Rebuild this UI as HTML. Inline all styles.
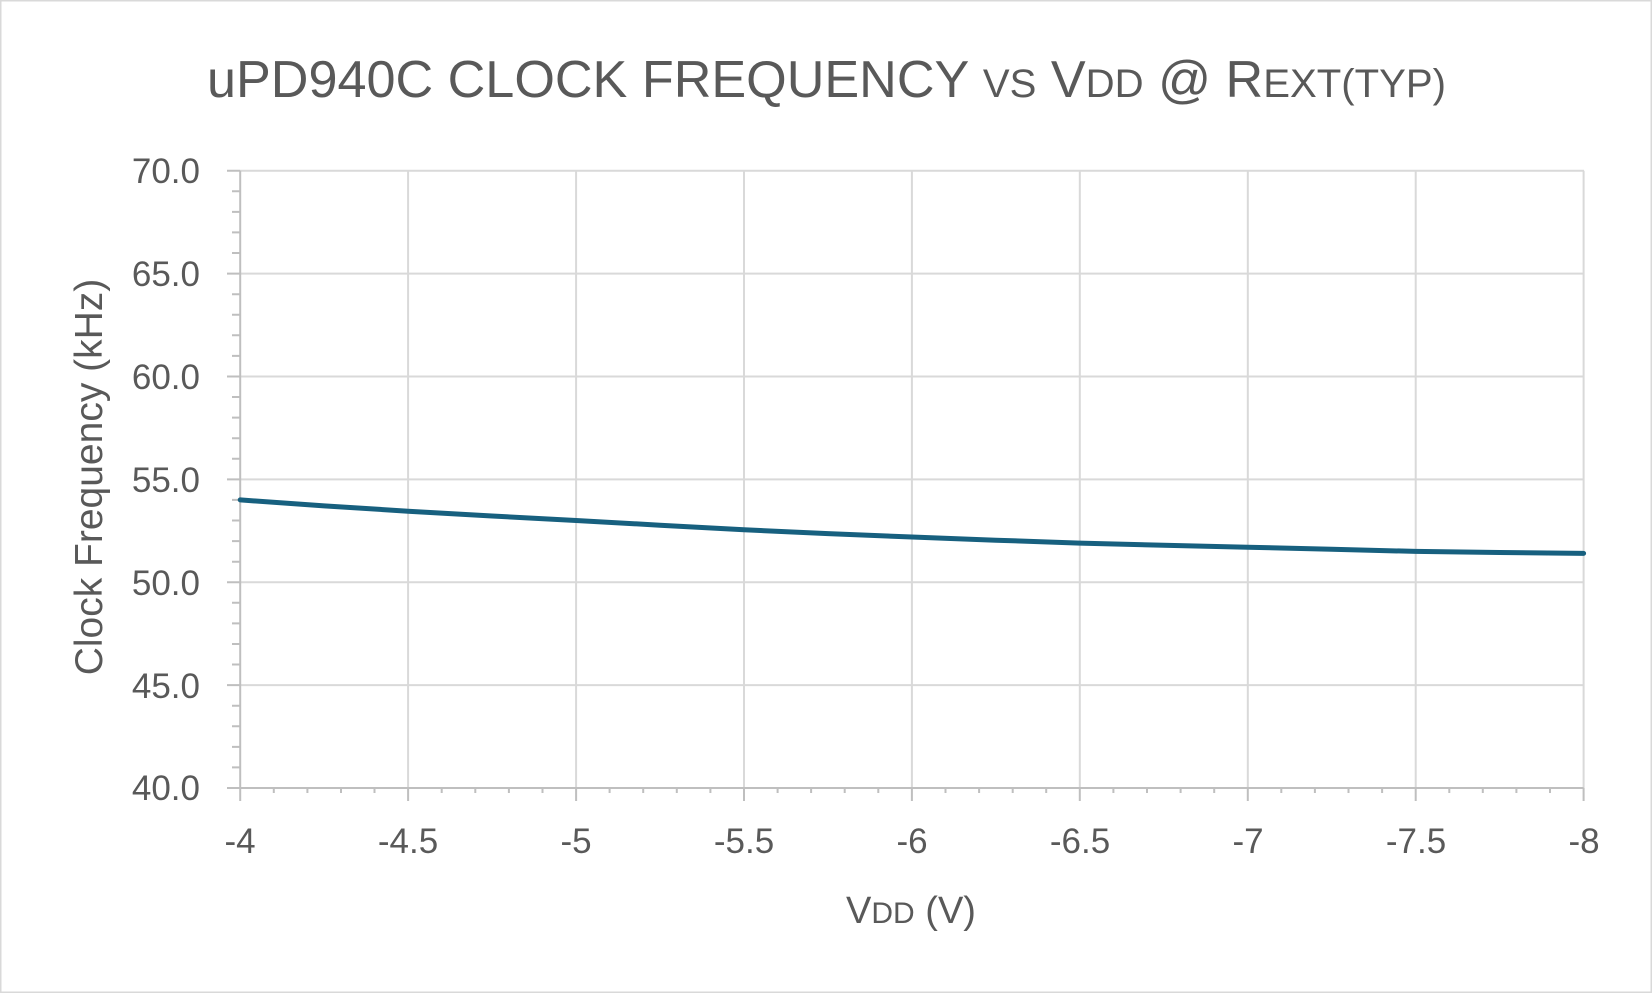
<!DOCTYPE html>
<html><head><meta charset="utf-8"><style>html,body{margin:0;padding:0;background:#fff}svg{display:block}</style></head>
<body>
<svg width="1652" height="993" viewBox="0 0 1652 993" xmlns="http://www.w3.org/2000/svg" font-family="Liberation Sans, sans-serif">
<rect x="0.5" y="0.5" width="1651" height="992" fill="#fff" stroke="#d9d9d9" stroke-width="2"/>
<text x="207" y="97" font-size="52" fill="#595959" textLength="1239" lengthAdjust="spacingAndGlyphs">uPD940C CLOCK FREQUENCY <tspan font-size="40">VS</tspan> V<tspan font-size="40">DD</tspan> @ R<tspan font-size="40">EXT(TYP)</tspan></text>
<g stroke="#d9d9d9" stroke-width="2">
<line x1="240" y1="170.7" x2="1584" y2="170.7"/><line x1="240" y1="273.6" x2="1584" y2="273.6"/><line x1="240" y1="376.5" x2="1584" y2="376.5"/><line x1="240" y1="479.4" x2="1584" y2="479.4"/><line x1="240" y1="582.2" x2="1584" y2="582.2"/><line x1="240" y1="685.1" x2="1584" y2="685.1"/>
<line x1="408.1" y1="170.7" x2="408.1" y2="788"/><line x1="576.1" y1="170.7" x2="576.1" y2="788"/><line x1="744" y1="170.7" x2="744" y2="788"/><line x1="911.9" y1="170.7" x2="911.9" y2="788"/><line x1="1079.8" y1="170.7" x2="1079.8" y2="788"/><line x1="1247.8" y1="170.7" x2="1247.8" y2="788"/><line x1="1415.7" y1="170.7" x2="1415.7" y2="788"/><line x1="1583.6" y1="170.7" x2="1583.6" y2="788"/>
</g>
<g stroke="#bfbfbf" stroke-width="2" fill="none">
<path d="M240.2 170.7V788H1583.6"/>
<path d="M227 170.7H240M227 273.6H240M227 376.5H240M227 479.4H240M227 582.2H240M227 685.1H240M227 788H240"/>
<path d="M232 191.3H240M232 211.9H240M232 232.4H240M232 253H240M232 294.2H240M232 314.7H240M232 335.3H240M232 355.9H240M232 397H240M232 417.6H240M232 438.2H240M232 458.8H240M232 499.9H240M232 520.5H240M232 541.1H240M232 561.7H240M232 602.8H240M232 623.4H240M232 644H240M232 664.5H240M232 705.7H240M232 726.3H240M232 746.9H240M232 767.4H240"/>
<path d="M240.2 788v13M408.1 788v13M576.1 788v13M744 788v13M911.9 788v13M1079.8 788v13M1247.8 788v13M1415.7 788v13M1583.6 788v13"/>
<path d="M273.8 788v5M307.4 788v5M341 788v5M374.5 788v5M441.7 788v5M475.3 788v5M508.9 788v5M542.5 788v5M609.6 788v5M643.2 788v5M676.8 788v5M710.4 788v5M777.6 788v5M811.1 788v5M844.7 788v5M878.3 788v5M945.5 788v5M979.1 788v5M1012.7 788v5M1046.2 788v5M1113.4 788v5M1147 788v5M1180.6 788v5M1214.2 788v5M1281.3 788v5M1314.9 788v5M1348.5 788v5M1382.1 788v5M1449.3 788v5M1482.8 788v5M1516.4 788v5M1550 788v5"/>
</g>
<polyline fill="none" stroke="#17607f" stroke-width="5" stroke-linecap="round" stroke-linejoin="round" points="240.2,499.9 324.2,505.9 408.1,511.2 492.1,516 576.1,520.5 660,525.2 744,529.8 828,533.6 911.9,537 995.9,540.2 1079.8,543.1 1163.8,545.3 1247.8,547.2 1331.7,549.3 1415.7,551.4 1499.6,552.5 1583.6,553.4"/>
<g font-size="35" fill="#595959" text-anchor="end">
<text x="200" y="183">70.0</text><text x="200" y="286">65.0</text><text x="200" y="389">60.0</text><text x="200" y="492">55.0</text><text x="200" y="595">50.0</text><text x="200" y="698">45.0</text><text x="200" y="800">40.0</text>
</g>
<g font-size="35" fill="#595959" text-anchor="middle">
<text x="240" y="853">-4</text><text x="408" y="853">-4.5</text><text x="576" y="853">-5</text><text x="744" y="853">-5.5</text><text x="912" y="853">-6</text><text x="1080" y="853">-6.5</text><text x="1248" y="853">-7</text><text x="1416" y="853">-7.5</text><text x="1584" y="853">-8</text>
</g>
<text x="911" y="923" font-size="38" fill="#595959" text-anchor="middle">V<tspan font-size="30">DD</tspan> (V)</text>
<text transform="translate(102,477) rotate(-90)" font-size="39" fill="#595959" text-anchor="middle">Clock Frequency (kHz)</text>
</svg>
</body></html>
